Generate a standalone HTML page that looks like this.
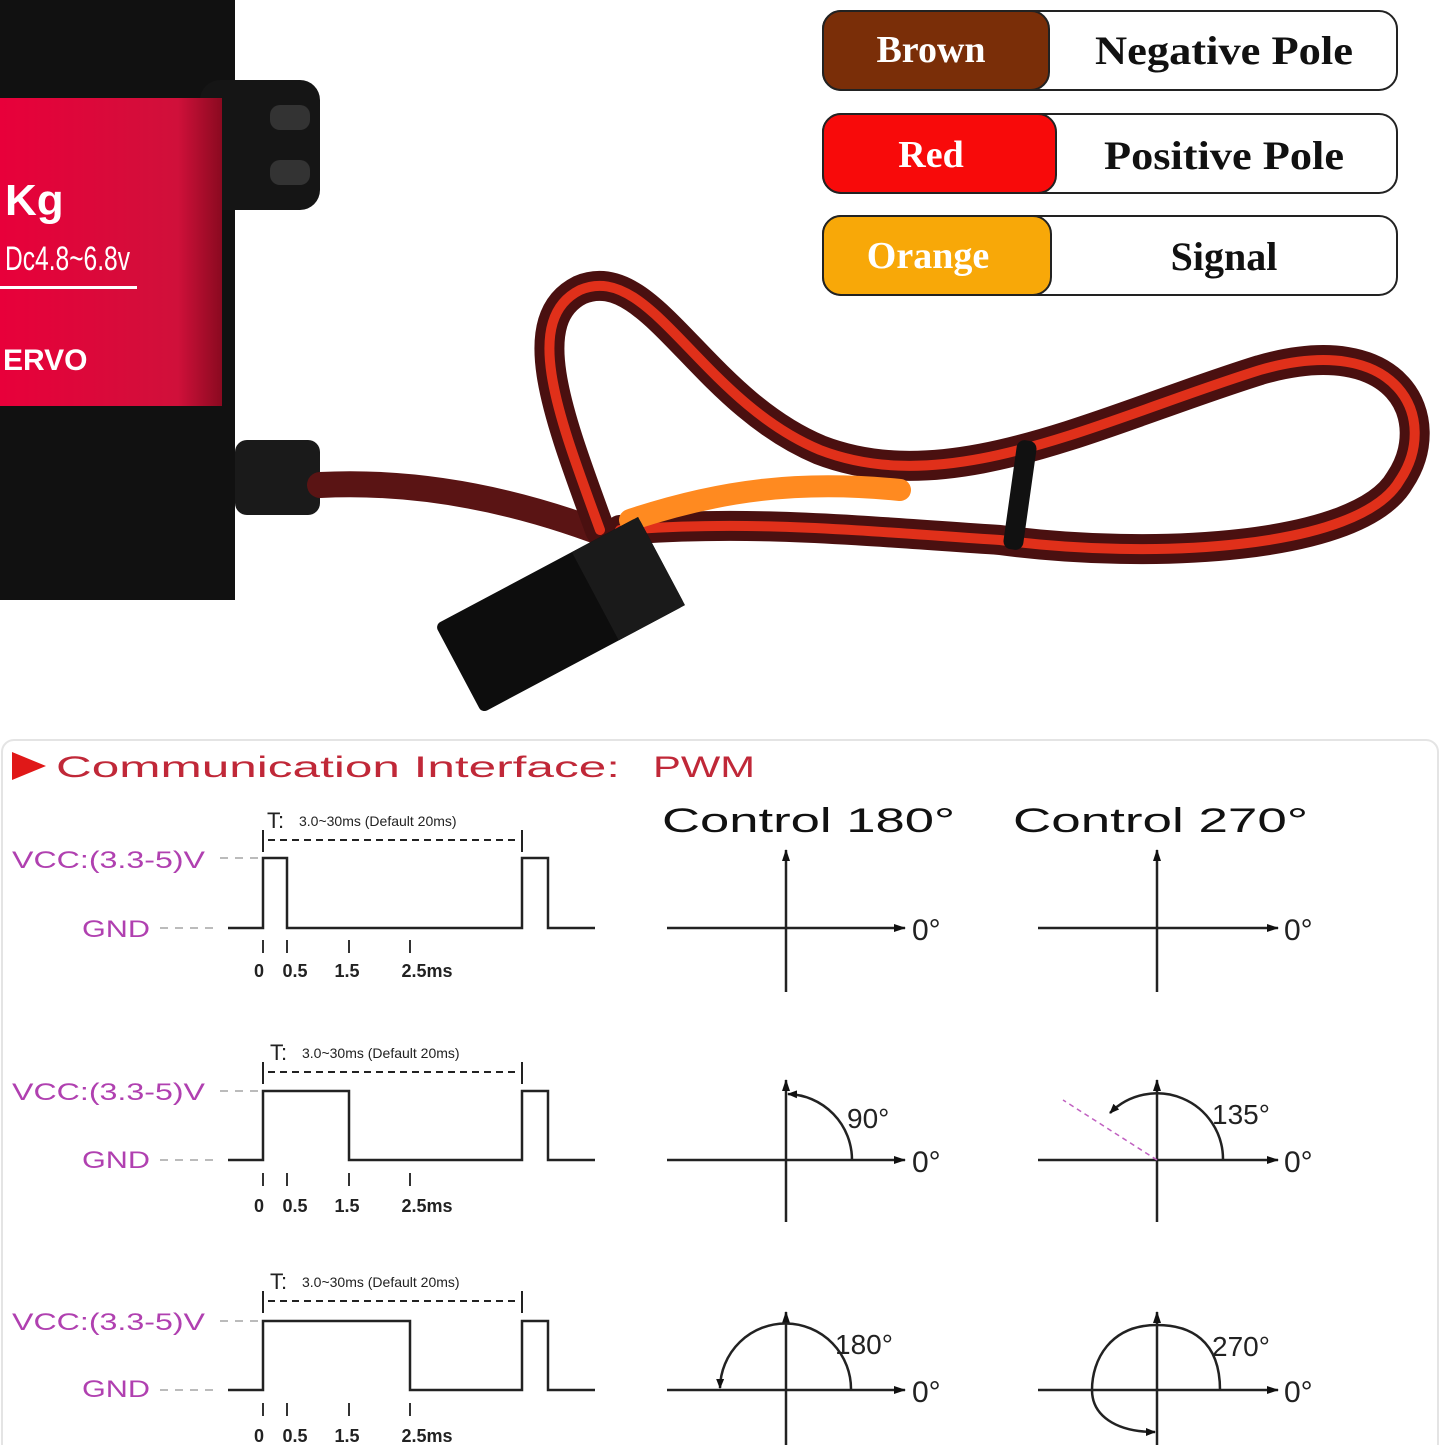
<!DOCTYPE html>
<html><head><meta charset="utf-8"><style>
html,body{margin:0;padding:0;background:#fff}
svg{display:block}
</style></head><body>
<svg width="1445" height="1445" viewBox="0 0 1445 1445" xmlns="http://www.w3.org/2000/svg" font-family="Liberation Sans, DejaVu Sans, sans-serif">
<defs>
<marker id="ah" markerWidth="12" markerHeight="8" refX="11" refY="4" orient="auto" markerUnits="userSpaceOnUse"><path d="M0,0 L12,4 L0,8 z" fill="#111"/></marker>
<marker id="ahs" markerWidth="10" markerHeight="8" refX="9" refY="4" orient="auto" markerUnits="userSpaceOnUse"><path d="M0,0 L10,4 L0,8 z" fill="#111"/></marker>
<linearGradient id="rg" x1="0" x2="1"><stop offset="0" stop-color="#e8003a"/><stop offset="0.8" stop-color="#d0103a"/><stop offset="1" stop-color="#8a0a20"/></linearGradient>
</defs>
<rect x="0" y="0" width="235" height="600" fill="#111"/>
<rect x="200" y="80" width="120" height="130" rx="20" fill="#151515"/>
<rect x="270" y="105" width="40" height="25" rx="10" fill="#333"/>
<rect x="270" y="160" width="40" height="25" rx="10" fill="#333"/>
<rect x="0" y="98" width="222" height="308" fill="url(#rg)"/>
<text x="5" y="215" font-size="44" font-weight="bold" fill="#fff">Kg</text>
<text x="5" y="270" font-size="34" fill="#fff" textLength="125" lengthAdjust="spacingAndGlyphs">Dc4.8~6.8v</text>
<rect x="0" y="286" width="137" height="3" fill="#fff"/>
<text x="3" y="370" font-size="30" font-weight="bold" fill="#fff">ERVO</text>
<rect x="235" y="440" width="85" height="75" rx="12" fill="#1a1a1a"/>
<g fill="none" stroke-linecap="round">
<path d="M320,485 C420,480 520,500 620,540" stroke="#5a1414" stroke-width="26"/>
<path d="M600,530 C560,420 520,320 580,290 C650,260 700,400 820,450 C950,500 1100,420 1260,370 C1400,330 1440,420 1400,480 C1360,550 1150,560 1000,540 C850,530 750,520 620,530" stroke="#4a1010" stroke-width="30"/>
<path d="M600,530 C560,420 520,320 580,290 C650,260 700,400 820,450 C950,500 1100,420 1260,370 C1400,330 1440,420 1400,480 C1360,550 1150,560 1000,540 C850,530 750,520 620,530" stroke="#e0301a" stroke-width="10"/>
<path d="M630,520 C720,490 800,480 900,490" stroke="#ff8a20" stroke-width="22"/>
</g>
<rect x="1010" y="440" width="20" height="110" rx="8" fill="#111" transform="rotate(8 1020 495)"/>
<g transform="rotate(-28 560 615)">
<rect x="445" y="565" width="230" height="100" rx="6" fill="#0d0d0d"/>
<rect x="600" y="565" width="75" height="100" fill="#1a1a1a"/>
</g>
<g font-family="Liberation Serif, serif" font-weight="bold">
<rect x="823" y="11" width="574" height="79" rx="18" fill="#fff" stroke="#222" stroke-width="2"/>
<rect x="823" y="11" width="226" height="79" rx="18" fill="#7a2e08" stroke="#222" stroke-width="2"/>
<text x="931" y="62" font-size="38" fill="#fff" text-anchor="middle">Brown</text>
<text x="1224" y="64" font-size="40" fill="#111" text-anchor="middle" textLength="258" lengthAdjust="spacingAndGlyphs">Negative Pole</text>
<rect x="823" y="114" width="574" height="79" rx="18" fill="#fff" stroke="#222" stroke-width="2"/>
<rect x="823" y="114" width="233" height="79" rx="18" fill="#f80a0a" stroke="#222" stroke-width="2"/>
<text x="931" y="167" font-size="38" fill="#fff" text-anchor="middle">Red</text>
<text x="1224" y="169" font-size="40" fill="#111" text-anchor="middle" textLength="240" lengthAdjust="spacingAndGlyphs">Positive Pole</text>
<rect x="823" y="216" width="574" height="79" rx="18" fill="#fff" stroke="#222" stroke-width="2"/>
<rect x="823" y="216" width="228" height="79" rx="18" fill="#f8a808" stroke="#222" stroke-width="2"/>
<text x="928" y="268" font-size="38" fill="#fff" text-anchor="middle">Orange</text>
<text x="1224" y="270" font-size="40" fill="#111" text-anchor="middle">Signal</text>
</g>
<rect x="2" y="740" width="1436" height="720" rx="12" fill="#fff" stroke="#e4e4e4" stroke-width="2"/>
<path d="M12,752 L46,766 L12,780 z" fill="#e01818"/>
<text x="56" y="777" font-size="30" fill="#c02838" textLength="564" lengthAdjust="spacingAndGlyphs">Communication Interface:</text>
<text x="653" y="777" font-size="30" fill="#c02838" textLength="102" lengthAdjust="spacingAndGlyphs">PWM</text>
<text x="662" y="832" font-size="34" fill="#111" textLength="293" lengthAdjust="spacingAndGlyphs">Control 180°</text>
<text x="1013" y="832" font-size="34" fill="#111" textLength="295" lengthAdjust="spacingAndGlyphs">Control 270°</text>

<g font-size="24" fill="#b040b0">
<text x="12" y="868" textLength="193" lengthAdjust="spacingAndGlyphs">VCC:(3.3-5)V</text>
<text x="82" y="937" textLength="68" lengthAdjust="spacingAndGlyphs">GND</text>
<text x="12" y="1100" textLength="193" lengthAdjust="spacingAndGlyphs">VCC:(3.3-5)V</text>
<text x="82" y="1168" textLength="68" lengthAdjust="spacingAndGlyphs">GND</text>
<text x="12" y="1330" textLength="193" lengthAdjust="spacingAndGlyphs">VCC:(3.3-5)V</text>
<text x="82" y="1397" textLength="68" lengthAdjust="spacingAndGlyphs">GND</text>
</g>
<g stroke="#bbb" stroke-width="2" stroke-dasharray="8,7">
<line x1="220" y1="858" x2="258" y2="858"/><line x1="160" y1="928" x2="220" y2="928"/>
<line x1="220" y1="1091" x2="258" y2="1091"/><line x1="160" y1="1160" x2="220" y2="1160"/>
<line x1="220" y1="1321" x2="258" y2="1321"/><line x1="160" y1="1390" x2="220" y2="1390"/>
</g>
<g fill="none" stroke="#222" stroke-width="2.5">
<path d="M228,928 H263 V858 H287 V928 H522 V858 H548 V928 H595"/>
<path d="M228,1160 H263 V1091 H349 V1160 H522 V1091 H548 V1160 H595"/>
<path d="M228,1390 H263 V1321 H410 V1390 H522 V1321 H548 V1390 H595"/>
</g>
<g stroke="#333" stroke-width="2">
<line x1="263" y1="940" x2="263" y2="953"/><line x1="287" y1="940" x2="287" y2="953"/><line x1="349" y1="940" x2="349" y2="953"/><line x1="410" y1="940" x2="410" y2="953"/>
<line x1="263" y1="1173" x2="263" y2="1186"/><line x1="287" y1="1173" x2="287" y2="1186"/><line x1="349" y1="1173" x2="349" y2="1186"/><line x1="410" y1="1173" x2="410" y2="1186"/>
<line x1="263" y1="1403" x2="263" y2="1416"/><line x1="287" y1="1403" x2="287" y2="1416"/><line x1="349" y1="1403" x2="349" y2="1416"/><line x1="410" y1="1403" x2="410" y2="1416"/>
</g>
<g font-size="18" font-weight="bold" fill="#222" text-anchor="middle">
<text x="259" y="977">0</text><text x="295" y="977">0.5</text><text x="347" y="977">1.5</text><text x="427" y="977">2.5ms</text>
<text x="259" y="1212">0</text><text x="295" y="1212">0.5</text><text x="347" y="1212">1.5</text><text x="427" y="1212">2.5ms</text>
<text x="259" y="1442">0</text><text x="295" y="1442">0.5</text><text x="347" y="1442">1.5</text><text x="427" y="1442">2.5ms</text>
</g>
<g fill="#222">
<text x="267" y="828" font-size="22">T:</text><text x="299" y="826" font-size="14">3.0~30ms (Default 20ms)</text>
<text x="270" y="1060" font-size="22">T:</text><text x="302" y="1058" font-size="14">3.0~30ms (Default 20ms)</text>
<text x="270" y="1289" font-size="22">T:</text><text x="302" y="1287" font-size="14">3.0~30ms (Default 20ms)</text>
</g>
<g stroke="#222" stroke-width="2">
<line x1="263" y1="830" x2="263" y2="852"/><line x1="522" y1="830" x2="522" y2="852"/>
<line x1="263" y1="1062" x2="263" y2="1084"/><line x1="522" y1="1062" x2="522" y2="1084"/>
<line x1="263" y1="1291" x2="263" y2="1313"/><line x1="522" y1="1291" x2="522" y2="1313"/>
<g stroke-dasharray="7,5" fill="none">
<line x1="268" y1="840" x2="517" y2="840"/><line x1="268" y1="1072" x2="517" y2="1072"/><line x1="268" y1="1301" x2="517" y2="1301"/>
</g>
</g>

<g stroke="#222" stroke-width="2.5" fill="none">
<line x1="667" y1="928" x2="905" y2="928" marker-end="url(#ah)"/><line x1="786" y1="992" x2="786" y2="850" marker-end="url(#ah)"/>
<line x1="1038" y1="928" x2="1278" y2="928" marker-end="url(#ah)"/><line x1="1157" y1="992" x2="1157" y2="850" marker-end="url(#ah)"/>
<line x1="667" y1="1160" x2="905" y2="1160" marker-end="url(#ah)"/><line x1="786" y1="1222" x2="786" y2="1080" marker-end="url(#ah)"/>
<line x1="1038" y1="1160" x2="1278" y2="1160" marker-end="url(#ah)"/><line x1="1157" y1="1222" x2="1157" y2="1080" marker-end="url(#ah)"/>
<line x1="667" y1="1390" x2="905" y2="1390" marker-end="url(#ah)"/><line x1="786" y1="1445" x2="786" y2="1312" marker-end="url(#ah)"/>
<line x1="1038" y1="1390" x2="1278" y2="1390" marker-end="url(#ah)"/><line x1="1157" y1="1445" x2="1157" y2="1312" marker-end="url(#ah)"/>
<path d="M852,1160 A66,66 0 0 0 788,1094" marker-end="url(#ahs)"/>
<path d="M1223,1160 A66,66 0 0 0 1110,1113" marker-end="url(#ahs)"/>
<path d="M851,1390 A65,65 0 0 0 720,1388" marker-end="url(#ahs)"/>
<path d="M1220,1390 C1220,1340 1190,1325 1157,1325 C1110,1325 1092,1360 1092,1390 C1092,1415 1115,1432 1155,1432" marker-end="url(#ahs)"/>
</g>
<line x1="1157" y1="1160" x2="1063" y2="1100" stroke="#c060c0" stroke-width="1.5" stroke-dasharray="5,4"/>
<g font-size="30" fill="#222">
<text x="912" y="940">0°</text><text x="1284" y="940">0°</text>
<text x="912" y="1172">0°</text><text x="1284" y="1172">0°</text>
<text x="912" y="1402">0°</text><text x="1284" y="1402">0°</text>
<text x="847" y="1128" font-size="28">90°</text>
<text x="1212" y="1124" font-size="28">135°</text>
<text x="835" y="1354" font-size="28">180°</text>
<text x="1212" y="1356" font-size="28">270°</text>
</g>
</svg>
</body></html>
